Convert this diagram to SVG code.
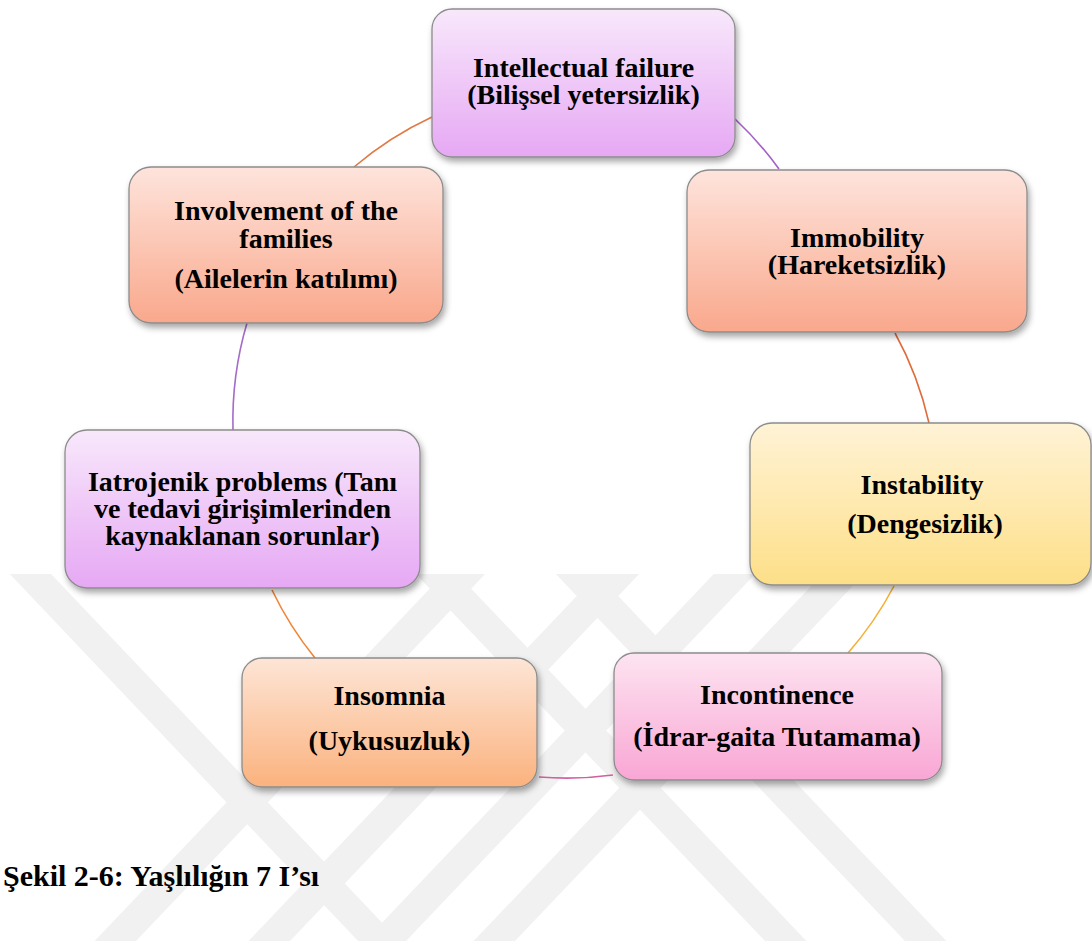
<svg xmlns="http://www.w3.org/2000/svg" width="1092" height="941" viewBox="0 0 1092 941">
<style>
.t{font-family:"Liberation Serif","DejaVu Serif",serif;font-weight:700;font-size:28px;fill:#000;text-anchor:middle}
.cap{font-family:"Liberation Serif","DejaVu Serif",serif;font-weight:700;font-size:30px;fill:#000}
.box{stroke:#8c8c8c;stroke-width:1.3;filter:url(#sh)}
.wm{fill:none;stroke:#f1f1f1;stroke-width:30}
.c{fill:none;stroke-width:1.6}
</style>
<defs>
<filter id="sh" x="-10%" y="-10%" width="125%" height="130%">
<feDropShadow dx="2" dy="4" stdDeviation="3" flood-color="#000" flood-opacity="0.35"/>
</filter>
<linearGradient id="gPurple" x1="0" y1="0" x2="0" y2="1"><stop offset="0" stop-color="#f8e8fb"/><stop offset="1" stop-color="#e6a8f4"/></linearGradient>
<linearGradient id="gSalmon" x1="0" y1="0" x2="0" y2="1"><stop offset="0" stop-color="#fee4dc"/><stop offset="1" stop-color="#f9a88c"/></linearGradient>
<linearGradient id="gYellow" x1="0" y1="0" x2="0" y2="1"><stop offset="0" stop-color="#fff3d6"/><stop offset="1" stop-color="#fddf88"/></linearGradient>
<linearGradient id="gPeach" x1="0" y1="0" x2="0" y2="1"><stop offset="0" stop-color="#fde5d6"/><stop offset="1" stop-color="#fbb27e"/></linearGradient>
<linearGradient id="gPink" x1="0" y1="0" x2="0" y2="1"><stop offset="0" stop-color="#fde4f1"/><stop offset="1" stop-color="#f9a6d4"/></linearGradient>
<clipPath id="wmclip"><rect x="0" y="574" width="1092" height="367"/></clipPath>
</defs>
<rect x="0" y="0" width="1092" height="941" fill="#fff"/>
<g id="watermark" clip-path="url(#wmclip)">
<path class="wm" d="M2,544 L411,975"/>
<path class="wm" d="M493,544 L83,975"/>
<path class="wm" d="M647,544 L237,975"/>
<path class="wm" d="M763,544 L353,975"/>
<path class="wm" d="M872,544 L462,975"/>
<path class="wm" d="M408,544 L818,975"/>
<path class="wm" d="M548,544 L958,975"/>
</g>
<g id="connectors">
<path class="c" stroke="#a461c6" d="M735,119 A345,345 0 0,1 779,169"/>
<path class="c" stroke="#e06c3c" d="M895,333 A345,345 0 0,1 929,423"/>
<path class="c" stroke="#f5b035" d="M894,586 A345,345 0 0,1 848,653"/>
<path class="c" stroke="#d0609f" d="M613,775 A345,345 0 0,1 539,777"/>
<path class="c" stroke="#f28535" d="M315,658 A345,345 0 0,1 272,590"/>
<path class="c" stroke="#a56bc8" d="M233,430 A345,345 0 0,1 247,323"/>
<path class="c" stroke="#e07a45" d="M354,167 A345,345 0 0,1 432,117"/>
</g>
<g id="n-intellectual">
<rect class="box" x="432" y="9" width="303" height="148" rx="20" fill="url(#gPurple)"/>
<text class="t" x="583.5" y="77">Intellectual failure</text>
<text class="t" x="583.5" y="104">(Bilişsel yetersizlik)</text>
</g>
<g id="n-immobility">
<rect class="box" x="687" y="170" width="340" height="162" rx="22" fill="url(#gSalmon)"/>
<text class="t" x="857" y="247">Immobility</text>
<text class="t" x="857" y="274">(Hareketsizlik)</text>
</g>
<g id="n-instability">
<rect class="box" x="750" y="423" width="341" height="162" rx="22" fill="url(#gYellow)"/>
<text class="t" x="922" y="494">Instability</text>
<text class="t" x="925" y="533">(Dengesizlik)</text>
</g>
<g id="n-incontinence">
<rect class="box" x="614" y="653" width="328" height="127" rx="20" fill="url(#gPink)"/>
<text class="t" x="777" y="704">Incontinence</text>
<text class="t" x="777" y="746">(İdrar-gaita Tutamama)</text>
</g>
<g id="n-insomnia">
<rect class="box" x="242" y="658" width="295" height="129" rx="20" fill="url(#gPeach)"/>
<text class="t" x="389.5" y="705">Insomnia</text>
<text class="t" x="389.5" y="750">(Uykusuzluk)</text>
</g>
<g id="n-iatrojenik">
<rect class="box" x="65" y="430" width="355" height="158" rx="22" fill="url(#gPurple)"/>
<text class="t" x="242.5" y="491">Iatrojenik problems (Tanı</text>
<text class="t" x="242.5" y="518">ve tedavi girişimlerinden</text>
<text class="t" x="242.5" y="545">kaynaklanan sorunlar)</text>
</g>
<g id="n-involvement">
<rect class="box" x="129" y="167" width="314" height="156" rx="22" fill="url(#gSalmon)"/>
<text class="t" x="286" y="220">Involvement of the</text>
<text class="t" x="286" y="248">families</text>
<text class="t" x="286" y="288">(Ailelerin katılımı)</text>
</g>
<g id="caption">
<text class="cap" x="3" y="886">Şekil 2-6: Yaşlılığın 7 I’sı</text>
</g>
</svg>
